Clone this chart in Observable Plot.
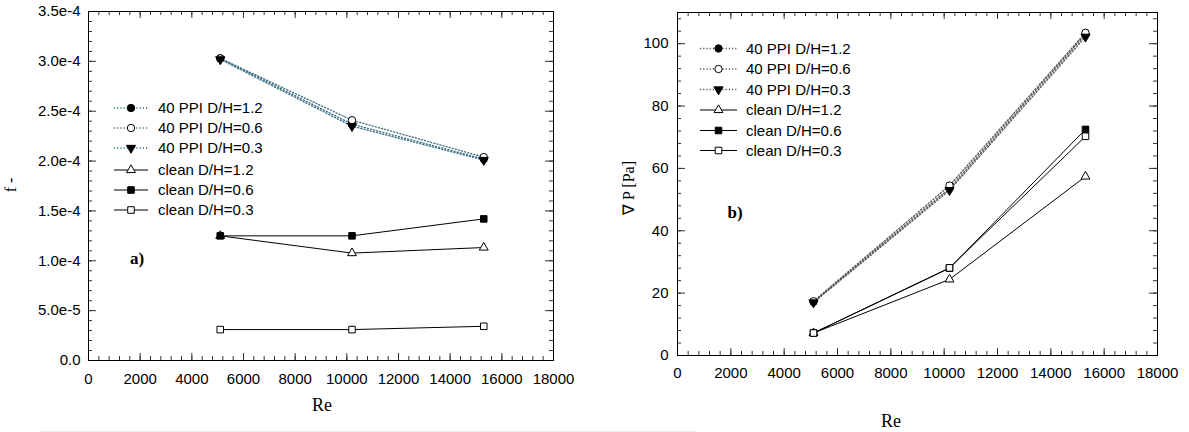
<!DOCTYPE html>
<html><head><meta charset="utf-8">
<script src="https://cdn.jsdelivr.net/npm/d3@7"></script>
<script src="https://cdn.jsdelivr.net/npm/@observablehq/plot@0.6"></script>
<style>
body{margin:0;background:#fff;}
#wrap{position:relative;width:1189px;height:432px;overflow:hidden;background:#fff;}
#wrap svg{position:absolute;top:0;}
</style></head><body><div id="wrap"></div>
<script>
// ---------- data ----------
const re = [5100, 10200, 15300];
const seriesNames = ["40 PPI D/H=1.2", "40 PPI D/H=0.6", "40 PPI D/H=0.3", "clean D/H=1.2", "clean D/H=0.6", "clean D/H=0.3"];
// panel a) friction factor
const fPPI12 = [3.03e-4, 2.37e-4, 2.02e-4];
const fPPI06 = [3.03e-4, 2.41e-4, 2.04e-4];
const fPPI03 = [3.02e-4, 2.35e-4, 2.01e-4];
const fClean12 = [1.25e-4, 1.077e-4, 1.133e-4];
const fClean06 = [1.25e-4, 1.25e-4, 1.42e-4];
const fClean03 = [3.1e-5, 3.1e-5, 3.43e-5];
// panel b) pressure drop [Pa]
const pPPI12 = [17.2, 53.6, 103.0];
const pPPI06 = [17.4, 54.5, 103.5];
const pPPI03 = [17.0, 53.0, 102.2];
const pClean12 = [7.2, 24.4, 57.4];
const pClean06 = [7.2, 28.0, 72.5];
const pClean03 = [7.2, 28.1, 70.3];
// ticks
const xTicks = [0, 2000, 4000, 6000, 8000, 10000, 12000, 14000, 16000, 18000];
const xMinor = d3.range(0, 18001, 400);
const fTicks = [0, 5e-5, 1e-4, 1.5e-4, 2e-4, 2.5e-4, 3e-4, 3.5e-4];
const fTickLabels = ["0.0", "5.0e-5", "1.0e-4", "1.5e-4", "2.0e-4", "2.5e-4", "3.0e-4", "3.5e-4"];
const fMinor = d3.range(0, 36).map(i => i * 1e-5);
const pTicks = [0, 20, 40, 60, 80, 100];
const pMinor = d3.range(0, 111, 4);

// ---------- styles ----------
const triangleDown = {
  draw(context, size) {
    const s3 = Math.sqrt(3);
    const y = -Math.sqrt(size / (s3 * 3));
    context.moveTo(0, -y * 2);
    context.lineTo(-s3 * y, y);
    context.lineTo(s3 * y, y);
    context.closePath();
  }
};
const symStyle = [
  {symbol: "circle", fill: "black", r: 3.7, dotted: true},
  {symbol: "circle", fill: "white", r: 3.7, dotted: true},
  {symbol: triangleDown, fill: "black", r: 3.4, dotted: true},
  {symbol: "triangle", fill: "white", r: 3.3, dotted: false},
  {symbol: "square", fill: "black", r: 3.7, dotted: false},
  {symbol: "square", fill: "white", r: 3.7, dotted: false}
];
const SANS = "'Liberation Sans', Arial, Helvetica, sans-serif";
const SERIF = "'Liberation Serif', 'Times New Roman', serif";
const DASH = "1.2,2";

function makePanel({left, width, ml, mr, mt, mb, yDomain, yMajor, yMinor, yFmt, ys, dotColor, xPad, yPad}) {
  const H = 432;
  const fh = H - mt - mb, fw = width - ml - mr;
  const tickColor = "#333";
  const marks = [
    Plot.ruleX(xMinor, {x: d => d, insetTop: fh - 4, stroke: tickColor}),
    Plot.ruleX(xTicks, {x: d => d, insetTop: fh - 7, stroke: tickColor}),
    Plot.ruleX(xMinor, {x: d => d, insetBottom: fh - 4, stroke: tickColor}),
    Plot.ruleX(xTicks, {x: d => d, insetBottom: fh - 7, stroke: tickColor}),
    Plot.ruleY(yMinor, {y: d => d, insetRight: fw - 4, stroke: tickColor}),
    Plot.ruleY(yMajor, {y: d => d, insetRight: fw - 8, stroke: tickColor}),
    Plot.ruleY(yMinor, {y: d => d, insetLeft: fw - 4, stroke: tickColor}),
    Plot.ruleY(yMajor, {y: d => d, insetLeft: fw - 8, stroke: tickColor}),
    Plot.frame({stroke: "#000", strokeWidth: 1}),
    Plot.axisX(xTicks, {anchor: "bottom", tickSize: 0, tickPadding: xPad, label: null, tickFormat: d => String(d), fontSize: 15, fontFamily: SANS, fill: "#000"}),
    Plot.axisY(yMajor, {anchor: "left", tickSize: 0, tickPadding: yPad, label: null, tickFormat: yFmt, fontSize: 15, fontFamily: SANS, fill: "#000"})
  ];
  ys.forEach((vals, s) => {
    const st = symStyle[s];
    const rows = re.map((x, i) => ({x, y: vals[i]}));
    marks.push(Plot.line(rows, {
      x: "x", y: "y",
      stroke: st.dotted ? dotColor : "#000",
      strokeWidth: st.dotted ? 1.3 : 1,
      strokeDasharray: st.dotted ? DASH : null
    }));
  });
  ys.forEach((vals, s) => {
    const st = symStyle[s];
    const rows = re.map((x, i) => ({x, y: vals[i]}));
    marks.push(Plot.dot(rows, {x: "x", y: "y", symbol: st.symbol, r: st.r, fill: st.fill, stroke: "#000", strokeWidth: 1}));
  });
  const svg = Plot.plot({
    width, height: H,
    marginLeft: ml, marginRight: mr, marginTop: mt, marginBottom: mb,
    x: {domain: [0, 18000]},
    y: {domain: yDomain},
    style: {background: "transparent", color: "#000", fontFamily: SANS, fontSize: "15px", overflow: "visible"},
    marks
  });
  svg.style.left = left + "px";
  return svg;
}

const wrap = document.getElementById("wrap");
wrap.appendChild(makePanel({
  left: 0, width: 580, ml: 88, mr: 27, mt: 11, mb: 72,
  yDomain: [0, 3.5e-4], yMajor: fTicks, yMinor: fMinor,
  yFmt: d => fTickLabels[Math.round(d / 5e-5)],
  ys: [fPPI12, fPPI06, fPPI03, fClean12, fClean06, fClean03],
  dotColor: "#3f6f86", xPad: 13, yPad: 8
}));
wrap.appendChild(makePanel({
  left: 594, width: 595, ml: 83, mr: 32, mt: 12, mb: 77,
  yDomain: [0, 110], yMajor: pTicks, yMinor: pMinor,
  yFmt: d => String(d),
  ys: [pPPI12, pPPI06, pPPI03, pClean12, pClean06, pClean03],
  dotColor: "#555", xPad: 12, yPad: 9
}));

// ---------- overlay: titles, labels, legends ----------
const ov = d3.select(wrap).append("svg")
  .attr("width", 1189).attr("height", 432)
  .style("left", "0px").style("pointer-events", "none");

ov.append("line").attr("x1", 40).attr("x2", 697).attr("y1", 431.5).attr("y2", 431.5)
  .attr("stroke", "#ececec").attr("stroke-width", 1);

function txt(x, y, s, o = {}) {
  const t = ov.append("text").attr("x", x).attr("y", y).text(s)
    .attr("font-family", o.family || SERIF).attr("font-size", o.size || 18)
    .attr("font-weight", o.weight || "normal").attr("fill", "#000")
    .attr("text-anchor", o.anchor || "middle");
  if (o.rotate) t.attr("transform", `rotate(-90 ${x} ${y})`);
  return t;
}
txt(322, 411, "Re");
txt(891, 427, "Re");
txt(137, 264, "a)", {weight: "bold", size: 17});
txt(735, 218, "b)", {weight: "bold", size: 17});
txt(16, 185, "f -", {rotate: true, size: 16});
txt(634, 188, "∇  P [Pa]", {rotate: true, size: 16});

function legend(x1, x2, tx, rowsY, dotColor) {
  rowsY.forEach((y, s) => {
    const st = symStyle[s];
    ov.append("line").attr("x1", x1).attr("x2", x2).attr("y1", y).attr("y2", y)
      .attr("stroke", st.dotted ? dotColor : "#000")
      .attr("stroke-width", st.dotted ? 1.3 : 1)
      .attr("stroke-dasharray", st.dotted ? DASH : null);
    const type = typeof st.symbol === "string"
      ? {circle: d3.symbolCircle, triangle: d3.symbolTriangle, square: d3.symbolSquare}[st.symbol]
      : st.symbol;
    ov.append("path").attr("d", d3.symbol(type, Math.PI * st.r * st.r)())
      .attr("transform", `translate(${(x1 + x2) / 2},${y})`)
      .attr("fill", st.fill).attr("stroke", "#000").attr("stroke-width", 1);
    ov.append("text").attr("x", tx).attr("y", y).attr("dy", "0.36em")
      .attr("font-family", SANS).attr("font-size", 15).attr("fill", "#000")
      .text(seriesNames[s]);
  });
}
legend(114, 148, 158, [108, 128, 148, 170, 190, 210], "#3f6f86");
legend(700, 737, 746, [48.5, 69, 89.5, 110, 130.5, 150.5], "#555");
</script></body></html>
